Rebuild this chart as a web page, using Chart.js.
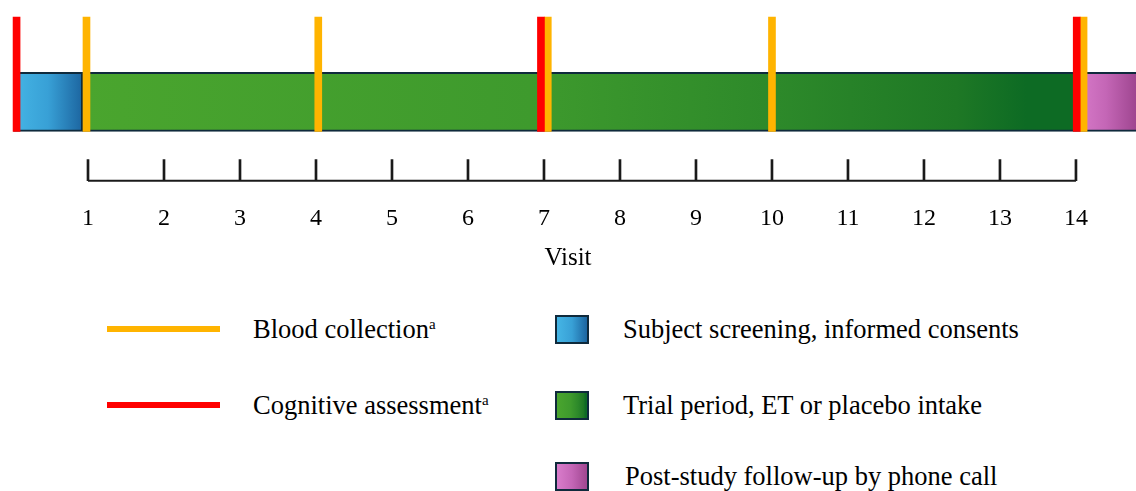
<!DOCTYPE html>
<html>
<head>
<meta charset="utf-8">
<script src="https://cdn.jsdelivr.net/npm/chart.js@4.4.1/dist/chart.umd.min.js"></script>
<style>
  html, body { margin: 0; padding: 0; background: #fff; }
  #wrap { position: relative; width: 1136px; height: 491px; overflow: hidden;
          font-family: "Liberation Serif", "Times New Roman", serif; color: #000; }
  #chart { position: absolute; left: 0; top: 0; }
  .lg { position: absolute; font-size: 26.5px; line-height: 30px; white-space: nowrap; }
  .lg sup { font-size: 15px; vertical-align: 9px; line-height: 0; }
  .ln { position: absolute; width: 113px; height: 6px; }
  .bx { position: absolute; width: 30px; height: 25px; border: 2px solid #0f2a3c; }
</style>
</head>
<body>
<div id="wrap">
  <canvas id="chart" width="1136" height="275"></canvas>
  <div id="legend"></div>
</div>
<script>
// datos
const visits = [1, 2, 3, 4, 5, 6, 7, 8, 9, 10, 11, 12, 13, 14];
const phaseLabels = ['Subject screening, informed consents', 'Trial period, ET or placebo intake', 'Post-study follow-up by phone call'];
const phaseFrom = [0.02, 0.93, 14.0];
const phaseTo = [0.93, 14.0, 15.0];
const markerLabels = ['Blood collection', 'Cognitive assessment'];
const bloodAt = [0.98, 4.03, 7.05, 10.0, 14.1];
const cognitiveAt = [0.06, 6.96, 14.01];

// estilos / posiciones (eje y oculto: 0 = arriba, en px)
const laneY = 101.5, laneH = 59;
const markTop = 17, markBottom = 131;
const rulerY = 180, rulerTickTop = 159;
const markerColors = ['#ffb400', '#ff0000'];
const edgeColor = '#0f2a3c';
const phaseStops = [
  [[0, '#45b5e5'], [0.5, '#38a0d6'], [1, '#1c65a0']],
  [[0, '#4aa52e'], [0.45, '#3e9a2d'], [0.7, '#2d892a'], [0.88, '#1e7825'], [0.95, '#0d6b24'], [1, '#0d6b24']],
  [[0, '#d97ccb'], [0.5, '#c466b6'], [1, '#9f4690']]
];

function phaseFill(i) {
  return (c) => {
    const chart = c.chart;
    if (!chart.chartArea) return phaseStops[i][0][1];
    const x = chart.scales.x;
    const x0 = x.getPixelForValue(phaseFrom[i]);
    const x1 = Math.min(x.getPixelForValue(phaseTo[i]), chart.chartArea.right);
    const g = chart.ctx.createLinearGradient(x0, 0, x1, 0);
    phaseStops[i].forEach(([p, col]) => g.addColorStop(p, col));
    return g;
  };
}

const datasets = [];

// marcas de eventos
datasets.push({
  type: 'bar', label: markerLabels[1], indexAxis: 'x', grouped: false, order: 1,
  data: cognitiveAt.map(v => ({ x: v, y: [markBottom, markTop] })),
  backgroundColor: markerColors[1], barThickness: 7
});
datasets.push({
  type: 'bar', label: markerLabels[0], indexAxis: 'x', grouped: false, order: 1,
  data: bloodAt.map(v => ({ x: v, y: [markBottom, markTop] })),
  backgroundColor: markerColors[0], barThickness: 7
});

// fases
phaseLabels.forEach((name, i) => {
  datasets.push({
    type: 'bar', label: name, indexAxis: 'y', grouped: false, order: 3,
    data: [{ y: laneY, x: [phaseFrom[i], phaseTo[i]] }],
    backgroundColor: phaseFill(i), borderColor: edgeColor, borderWidth: 2,
    borderSkipped: false, barThickness: laneH
  });
});

// regla de visitas
datasets.push({
  type: 'line', order: 2,
  data: [{ x: visits[0], y: rulerY }, { x: visits[visits.length - 1], y: rulerY }],
  borderColor: '#1a1a1a', borderWidth: 2, pointRadius: 0
});
datasets.push({
  type: 'bar', indexAxis: 'x', grouped: false, order: 2,
  data: visits.map(v => ({ x: v, y: [rulerY, rulerTickTop] })),
  backgroundColor: '#1a1a1a', barThickness: 2
});

new Chart(document.getElementById('chart'), {
  type: 'bar',
  data: { datasets: datasets },
  options: {
    responsive: false,
    animation: false,
    events: [],
    layout: { padding: 0 },
    plugins: { legend: { display: false }, tooltip: { enabled: false } },
    scales: {
      x: {
        type: 'linear', min: -0.158, max: 14.79, offset: false,
        grid: { display: false, drawTicks: false },
        border: { display: false },
        afterBuildTicks: ax => { ax.ticks = visits.map(v => ({ value: v })); },
        ticks: { autoSkip: false, maxRotation: 0, padding: 4, color: '#000',
                 font: { family: 'Liberation Serif', size: 24 } },
        title: { display: true, text: 'Visit', color: '#000',
                 font: { family: 'Liberation Serif', size: 25 }, padding: { top: 5.5, bottom: 2 } }
      },
      y: { type: 'linear', display: false, reverse: true, min: 0, max: 200, offset: false }
    }
  }
});

// leyenda
const legend = document.getElementById('legend');
const leftRows = [329, 405];
const rightRows = [329, 405, 476];
const rightX = [623, 623, 625];
markerLabels.forEach((t, i) => {
  const ln = document.createElement('div');
  ln.className = 'ln';
  ln.style.left = '107px';
  ln.style.top = (leftRows[i] - 3) + 'px';
  ln.style.background = markerColors[i];
  legend.appendChild(ln);
  const tx = document.createElement('div');
  tx.className = 'lg';
  tx.style.left = '253px';
  tx.style.top = (leftRows[i] - 15) + 'px';
  tx.innerHTML = t + '<sup>a</sup>';
  legend.appendChild(tx);
});
phaseLabels.forEach((t, i) => {
  const bx = document.createElement('div');
  bx.className = 'bx';
  bx.style.left = '555px';
  bx.style.top = (rightRows[i] - 14) + 'px';
  bx.style.background = 'linear-gradient(to right, ' + phaseStops[i].map(s => s[1] + ' ' + (s[0] * 100) + '%').join(', ') + ')';
  legend.appendChild(bx);
  const tx = document.createElement('div');
  tx.className = 'lg';
  tx.style.left = rightX[i] + 'px';
  tx.style.top = (rightRows[i] - 15) + 'px';
  tx.textContent = t;
  legend.appendChild(tx);
});
</script>
</body>
</html>
